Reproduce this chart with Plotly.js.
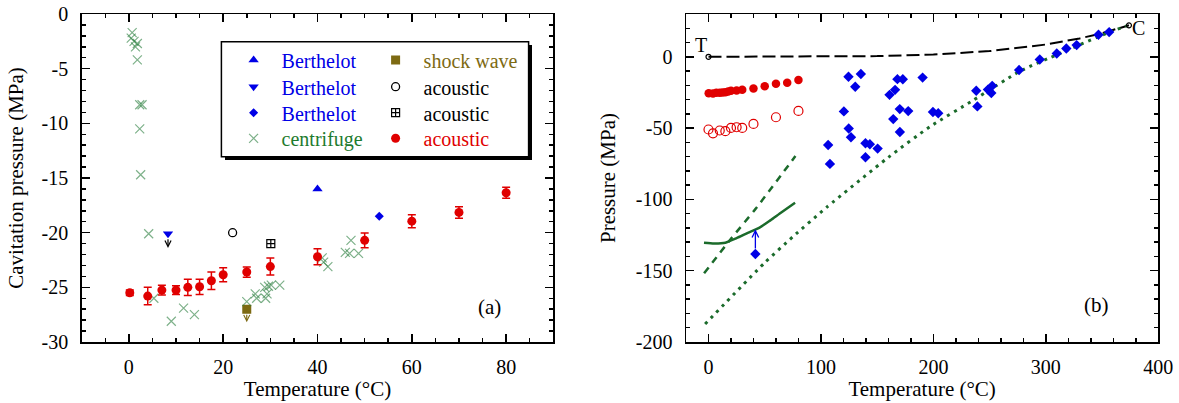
<!DOCTYPE html>
<html><head><meta charset="utf-8">
<script src="https://cdn.plot.ly/plotly-3.0.1.min.js"></script>
<style>html,body{margin:0;padding:0;background:#fff}#chart{width:1179px;height:403px}</style>
</head><body><div id="chart"></div>
<script>
// ---------- Panel (a) data ----------
const bertUpT = [40.0];
const bertUpP = [-16.0];
const bertDownT = [8.3];
const bertDownP = [-20.1];
const bertDownLimitP = [-21.4];
const bertDiaT = [53.1];
const bertDiaP = [-18.5];
const shockT = [25.0];
const shockP = [-27.0];
const shockLimitP = [-28.2];
const acOpenT = [22.0];
const acOpenP = [-20.0];
const acSqT = [30.1];
const acSqP = [-21.0];
const centT = [0.7, 0.5, 1.1, 1.8, 1.4, 1.8, 2.3, 2.8, 2.3, 2.5, 4.2, 5.3, 9.0, 11.6, 13.9,
               25.0, 26.8, 27.1, 28.8, 29.0, 29.3, 29.6, 30.2, 32.0, 41.0, 41.3, 42.2, 45.9, 46.8, 47.1, 48.7];
const centP = [-1.7, -2.2, -2.5, -2.7, -3.0, -4.2, -8.3, -8.3, -10.5, -14.7, -20.1, -26.0, -28.1, -26.9, -27.5,
               -26.3, -25.6, -26.0, -25.0, -26.0, -25.6, -24.9, -24.8, -24.8, -22.3, -22.7, -23.1, -21.8, -21.9, -20.7, -21.9];
const redT = [0.2, 4, 7, 10, 12.5, 15, 17.5, 20, 25, 30, 40, 50, 60, 70, 80];
const redP = [-25.5, -25.8, -25.25, -25.25, -25.0, -24.95, -24.4, -23.85, -23.6, -23.1, -22.2, -20.7, -18.95, -18.15, -16.35];
const redErr = [0.25, 0.8, 0.45, 0.4, 0.75, 0.7, 0.8, 0.65, 0.47, 0.78, 0.73, 0.67, 0.6, 0.53, 0.5];

// ---------- Panel (b) data ----------
const redOpenT = [0, 4, 10, 15, 20, 25, 30, 40, 60, 80];
const redOpenP = [-51.0, -53.7, -51.7, -52.2, -49.9, -49.4, -49.9, -47.1, -42.4, -38.0];
const bertBT = [41.7, 106.4, 108, 120.4, 124.5, 124.7, 126.7, 130.5, 135.5, 139.6, 139.6, 143.5, 150.4,
                161, 164.3, 165.9, 168, 170.1, 170.2, 172.8, 177.6, 190.4, 199.6, 204.3,
                238.1, 239.1, 248.5, 251.5, 252.3, 276.2, 294.6, 309.7, 318.2, 327.4, 346.8, 356.3];
const bertBP = [-138.3, -61.9, -75.1, -38.3, -14.0, -50.3, -56.4, -21.0, -12.1, -60.6, -70.4, -61.3, -64.4,
                -26.7, -43.7, -23.2, -15.7, -36.7, -52.7, -15.8, -38.1, -14.6, -38.7, -39.6,
                -23.8, -34.8, -23.0, -25.4, -20.4, -9.3, -1.9, 2.3, 5.8, 8.2, 15.4, 17.3];
const bertBLimitP = [-121.0];
const vapT = [0, 50, 100, 150, 200, 250, 300, 330, 350, 365, 373.9];
const vapP = [0, 0.01, 0.1, 0.48, 1.55, 3.98, 8.59, 12.86, 16.53, 19.8, 22.06];
const tripleT = [0];
const tripleP = [0];
const critT = [373.9];
const critP = [22.06];
const solidT = [-4, 5, 15, 25, 35, 45, 55, 65, 77];
const solidP = [-130.4, -130.9, -130.4, -127.2, -123.5, -120.0, -114.7, -109.0, -102.4];
const dashT = [-3.9, 20, 41.5, 77.3];
const dashP = [-151.8, -127.6, -107.0, -69.6];
const dotT = [-3, 49.5, 75, 105, 160, 197, 235.6, 277, 312.6, 354, 372];
const dotP = [-187.4, -144.8, -126.2, -105.6, -70.5, -49.0, -30.4, -10.1, 2.4, 16.4, 21.7];

// ---------- ticks ----------
const xTicksA = [0, 20, 40, 60, 80];
const xTickTextA = ['0', '20', '40', '60', '80'];
const yTicksA = [-30, -25, -20, -15, -10, -5, 0];
const yTickTextA = ['-30', '-25', '-20', '-15', '-10', '-5', '0'];
const xTicksB = [0, 100, 200, 300, 400];
const xTickTextB = ['0', '100', '200', '300', '400'];
const yTicksB = [-200, -150, -100, -50, 0];
const yTickTextB = ['-200', '-150', '-100', '-50', '0'];

const FONT = 'Liberation Serif, Times New Roman, serif';
const BLUE = '#0000e6', RED = '#e00000', OLIVE = '#7d6a12', GREEN = '#1b6b2b', GREENTXT = '#1e7b2e';
const CROSS = 'rgba(40,125,60,0.6)';

function col(c, t) { return '<span style="color:' + c + '">' + t + '</span>'; }

const traces = [
  // legend rows (row-major, 2 per row)
  {x: bertUpT, y: bertUpP, type: 'scatter', mode: 'markers', name: col(BLUE, 'Berthelot'), legend: 'legend',
   marker: {symbol: 'triangle-up', size: 9, color: BLUE}, xaxis: 'x', yaxis: 'y'},
  {x: shockT, y: shockP, type: 'scatter', mode: 'markers', name: col(OLIVE, 'shock wave'), legend: 'legend',
   legendwidth: 110, marker: {symbol: 'square', size: 9, color: OLIVE}, xaxis: 'x', yaxis: 'y'},
  {x: bertDownT, y: bertDownP, type: 'scatter', mode: 'markers', name: col(BLUE, 'Berthelot'), legend: 'legend2',
   marker: {symbol: 'triangle-down', size: 9, color: BLUE}, xaxis: 'x', yaxis: 'y'},
  {x: acOpenT, y: acOpenP, type: 'scatter', mode: 'markers', name: col('#000', 'acoustic'), legend: 'legend2',
   legendwidth: 110, marker: {symbol: 'circle-open', size: 8, color: '#000', line: {width: 1.3}}, xaxis: 'x', yaxis: 'y'},
  {x: bertDiaT, y: bertDiaP, type: 'scatter', mode: 'markers', name: col(BLUE, 'Berthelot'), legend: 'legend3',
   marker: {symbol: 'diamond', size: 7, color: BLUE}, xaxis: 'x', yaxis: 'y'},
  {x: acSqT, y: acSqP, type: 'scatter', mode: 'markers', name: col('#000', 'acoustic'), legend: 'legend3',
   legendwidth: 110, marker: {symbol: 'square-cross-open', size: 8, color: '#000', line: {width: 1.2}}, xaxis: 'x', yaxis: 'y'},
  {x: centT, y: centP, type: 'scatter', mode: 'markers', name: col(GREENTXT, 'centrifuge'), legend: 'legend4',
   marker: {symbol: 'x-thin-open', size: 9, color: CROSS, line: {width: 1.2, color: CROSS}}, xaxis: 'x', yaxis: 'y'},
  {x: redT, y: redP, type: 'scatter', mode: 'markers', name: col(RED, 'acoustic'), legend: 'legend4',
   legendwidth: 110, marker: {symbol: 'circle', size: 9, color: RED},
   error_y: {type: 'data', array: redErr, visible: true, color: RED, thickness: 1.5, width: 4},
   xaxis: 'x', yaxis: 'y'},

  // panel (b)
  {x: vapT, y: vapP, type: 'scatter', mode: 'lines', showlegend: false,
   line: {color: '#000', width: 2, dash: '13px,5px'}, xaxis: 'x2', yaxis: 'y2'},
  {x: dotT, y: dotP, type: 'scatter', mode: 'lines', showlegend: false, line: {shape: 'spline', smoothing: 0.6,
   color: GREEN, width: 3, dash: '3px,5px'}, xaxis: 'x2', yaxis: 'y2'},
  {x: dashT, y: dashP, type: 'scatter', mode: 'lines', showlegend: false, line: {shape: 'spline', smoothing: 0.6,
   color: GREEN, width: 2.5, dash: '7px,6px'}, xaxis: 'x2', yaxis: 'y2'},
  {x: solidT, y: solidP, type: 'scatter', mode: 'lines', showlegend: false, line: {shape: 'spline', smoothing: 0.6,
   color: GREEN, width: 2.5}, xaxis: 'x2', yaxis: 'y2'},
  {x: tripleT.concat(critT), y: tripleP.concat(critP), type: 'scatter', mode: 'markers', showlegend: false,
   marker: {symbol: 'circle-open', size: 5, color: '#000', line: {width: 1.2}}, xaxis: 'x2', yaxis: 'y2'},
  {x: redOpenT, y: redOpenP, type: 'scatter', mode: 'markers', showlegend: false,
   marker: {symbol: 'circle-open', size: 9, color: RED, line: {width: 1.2}}, xaxis: 'x2', yaxis: 'y2'},
  {x: redT, y: redP, type: 'scatter', mode: 'markers', showlegend: false,
   marker: {symbol: 'circle', size: 8.5, color: RED}, xaxis: 'x2', yaxis: 'y2'},
  {x: bertBT, y: bertBP, type: 'scatter', mode: 'markers', showlegend: false,
   marker: {symbol: 'diamond', size: 8, color: BLUE}, xaxis: 'x2', yaxis: 'y2'}
];

function axisBase() {
  return {showline: true, linecolor: '#000', linewidth: 1.5, mirror: 'allticks', ticks: 'inside',
          ticklen: 8, tickwidth: 1.5, tickcolor: '#000', showgrid: false, zeroline: false,
          tickfont: {family: FONT, size: 20, color: '#000'}, tickmode: 'array', fixedrange: true};
}
const W = 1179, plotTop = 14, plotBot = 342, H = plotBot - plotTop;
function px(v) { return v / W; }
function py(v) { return (plotBot - v) / H; }

const xa = Object.assign(axisBase(), {domain: [px(81.7), px(553.3)], range: [-10, 90], anchor: 'y',
  tickvals: xTicksA, ticktext: xTickTextA, ticklabelstandoff: 6,
  minor: {ticks: 'inside', ticklen: 4, tickwidth: 1.5, dtick: 5, tick0: 0, tickcolor: '#000'},
  title: {text: 'Temperature (°C)', font: {family: FONT, size: 21, color: '#000'}, standoff: 4}});
const ya = Object.assign(axisBase(), {domain: [0, 1], range: [-30, 0], anchor: 'x',
  tickvals: yTicksA, ticktext: yTickTextA, ticklabelstandoff: 8,
  minor: {ticks: 'inside', ticklen: 4, tickwidth: 1.5, dtick: 1, tick0: 0, tickcolor: '#000'},
  title: {text: 'Cavitation pressure (MPa)', font: {family: FONT, size: 21, color: '#000'}, standoff: 12}});
const xb = Object.assign(axisBase(), {domain: [px(686), px(1158.3)], range: [-20, 400], anchor: 'y2',
  tickvals: xTicksB, ticktext: xTickTextB, ticklabelstandoff: 6,
  minor: {ticks: 'inside', ticklen: 4, tickwidth: 1.5, dtick: 20, tick0: 0, tickcolor: '#000'},
  title: {text: 'Temperature (°C)', font: {family: FONT, size: 21, color: '#000'}, standoff: 4}});
const yb = Object.assign(axisBase(), {domain: [0, 1], range: [-200, 30], anchor: 'x2',
  tickvals: yTicksB, ticktext: yTickTextB, ticklabelstandoff: 8,
  minor: {ticks: 'inside', ticklen: 4, tickwidth: 1.5, dtick: 10, tick0: 0, tickcolor: '#000'},
  title: {text: 'Pressure (MPa)', font: {family: FONT, size: 21, color: '#000'}, standoff: 14}});

function legendAt(rowY) {
  return {x: px(225.6), xanchor: 'left', y: py(rowY), yanchor: 'middle', orientation: 'h',
          entrywidth: 81, itemwidth: 46, bgcolor: 'rgba(0,0,0,0)', borderwidth: 0,
          font: {family: FONT, size: 20, color: '#000'}, traceorder: 'normal', itemclick: false};
}

const annotations = [
  {xref: 'x', yref: 'y', x: bertDownT[0], y: bertDownLimitP[0], axref: 'x', ayref: 'y',
   ax: bertDownT[0], ay: bertDownP[0], showarrow: true, arrowhead: 5, arrowsize: 1, arrowwidth: 1.2,
   arrowcolor: '#000', startstandoff: 4, text: ''},
  {xref: 'x', yref: 'y', x: shockT[0], y: shockLimitP[0], axref: 'x', ayref: 'y',
   ax: shockT[0], ay: shockP[0], showarrow: true, arrowhead: 5, arrowsize: 1, arrowwidth: 1.2,
   arrowcolor: OLIVE, startstandoff: 4, text: ''},
  {xref: 'x2', yref: 'y2', x: bertBT[0], y: bertBLimitP[0], axref: 'x2', ayref: 'y2',
   ax: bertBT[0], ay: bertBP[0], showarrow: true, arrowhead: 5, arrowsize: 1, arrowwidth: 1.3,
   arrowcolor: BLUE, startstandoff: 4, text: ''},
  {xref: 'x', yref: 'y', x: 76.5, y: -26.8, text: '(a)', showarrow: false,
   font: {family: FONT, size: 21, color: '#000'}},
  {xref: 'x2', yref: 'y2', x: 344.9, y: -174.1, text: '(b)', showarrow: false,
   font: {family: FONT, size: 21, color: '#000'}},
  {xref: 'x2', yref: 'y2', x: -6.5, y: 8.3, text: 'T', showarrow: false,
   font: {family: FONT, size: 20, color: '#000'}},
  {xref: 'x2', yref: 'y2', x: 382.2, y: 20.0, text: 'C', showarrow: false,
   font: {family: FONT, size: 20, color: '#000'}}
];

const shapes = [
  {type: 'rect', xref: 'paper', yref: 'paper', x0: px(225), x1: px(532), y0: py(160), y1: py(45),
   fillcolor: '#000', line: {width: 0}},
  {type: 'rect', xref: 'paper', yref: 'paper', x0: px(221.4), x1: px(528.6), y0: py(156.7), y1: py(41.7),
   fillcolor: '#fff', line: {color: '#000', width: 1.5}}
];

const layout = {
  width: 1179, height: 403, margin: {l: 0, r: 0, t: plotTop, b: 403 - plotBot, pad: 0},
  paper_bgcolor: '#fff', plot_bgcolor: '#fff', font: {family: FONT, color: '#000'},
  xaxis: xa, yaxis: ya, xaxis2: xb, yaxis2: yb,
  showlegend: true,
  legend: legendAt(60), legend2: legendAt(86.7), legend3: legendAt(112.7), legend4: legendAt(138.3),
  annotations: annotations, shapes: shapes
};

Plotly.newPlot('chart', traces, layout, {displayModeBar: false, staticPlot: true});
</script>
</body></html>
